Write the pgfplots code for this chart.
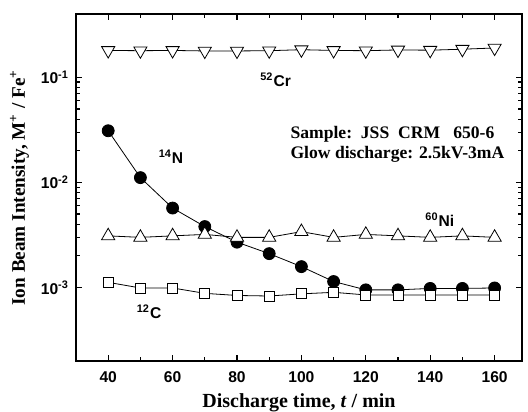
\documentclass[border=0pt]{standalone}
\usepackage{pgfplots}
\pgfplotsset{compat=1.18}
\usepackage{fontspec}
\setmainfont{Liberation Serif}
\newfontfamily\arial{Liberation Sans}
\begin{document}
\begin{tikzpicture}
\begin{axis}[
  scale only axis,
  width=223pt, height=173.5pt,
  ymode=log,
  xmin=30, xmax=168.5,
  ymin=2e-4, ymax=0.4,
  xtick={40,60,...,160},
  minor xtick={50,70,...,150},
  ytick={1e-3,1e-2,1e-1},
  yticklabels={10\textsuperscript{-3},10\textsuperscript{-2},10\textsuperscript{-1}},
  tick align=inside,
  tick pos=both,
  major tick length=3pt, minor tick length=2pt,
  axis line style={line width=1pt},
  every tick/.style={black, line width=0.6pt},
  ticklabel style={font=\arial\bfseries\fontsize{7.8}{9}\selectfont},
  xticklabel style={yshift=-2pt},
  /pgf/number format/assume math mode=true,
  xlabel={\bfseries Discharge time, \textit{t} / min},
  ylabel={\bfseries Ion Beam Intensity, M\textsuperscript{+} / Fe\textsuperscript{+}},
  xlabel style={font=\fontsize{10}{12}\selectfont, yshift=1.5pt},
  ylabel style={font=\fontsize{9.6}{11}\selectfont, yshift=-1pt},
  clip=false,
]
% 52Cr
\addplot[black, line width=0.4pt, mark=triangle*, mark options={fill=white, rotate=180, scale=1.9, line width=0.4pt}] coordinates {
(40,0.180) (50,0.179) (60,0.180) (70,0.178) (80,0.178) (90,0.179) (100,0.183)
(110,0.180) (120,0.179) (130,0.182) (140,0.181) (150,0.185) (160,0.190)};
% 14N
\addplot[black, line width=0.4pt, mark=*, mark options={fill=black, scale=1.5}] coordinates {
(40,0.031) (50,0.0111) (60,0.0057) (70,0.0038) (80,0.0027) (90,0.0021) (100,0.00158)
(110,0.00114) (120,0.00095) (130,0.00095) (140,0.00098) (150,0.00098) (160,0.00099)};
% 60Ni
\addplot[black, line width=0.4pt, mark=triangle*, mark options={fill=white, scale=1.9, line width=0.4pt}] coordinates {
(40,0.0031) (50,0.0030) (60,0.0031) (70,0.0032) (80,0.0030) (90,0.0030) (100,0.0034)
(110,0.0030) (120,0.0032) (130,0.0031) (140,0.0030) (150,0.0031) (160,0.0030)};
% 12C
\addplot[black, line width=0.4pt, mark=square*, mark options={fill=white, scale=1.25, line width=0.4pt}] coordinates {
(40,0.00112) (50,0.00099) (60,0.00099) (70,0.00088) (80,0.00084) (90,0.00083) (100,0.00087)
(110,0.00090) (120,0.00085) (130,0.00085) (140,0.00085) (150,0.00085) (160,0.00085)};
\node[font=\arial\bfseries\fontsize{7.8}{9}\selectfont] at (axis cs:92,0.095) {\textsuperscript{52}Cr};
\node[font=\arial\bfseries\fontsize{7.8}{9}\selectfont] at (axis cs:59.5,0.0176) {\textsuperscript{14}N};
\node[font=\arial\bfseries\fontsize{7.8}{9}\selectfont] at (axis cs:143,0.0044) {\textsuperscript{60}Ni};
\node[font=\arial\bfseries\fontsize{7.8}{9}\selectfont] at (axis cs:52.7,0.00059) {\textsuperscript{12}C};
\node[anchor=west, inner sep=0pt, font=\bfseries\fontsize{8.8}{10}\selectfont] at (axis cs:96.5,0.0285) {Sample:\ \ JSS\ \ CRM\ \ \ 650-6};
\node[anchor=west, inner sep=0pt, font=\bfseries\fontsize{8.8}{10}\selectfont] at (axis cs:96.5,0.0186) {Glow discharge: 2.5kV-3mA};
\coordinate (bl) at (axis description cs:-0.1704,-0.147);
\coordinate (tr) at (axis description cs:1.0135,1.0403);
\end{axis}
\pgfresetboundingbox
\path (bl) rectangle (tr);
\end{tikzpicture}
\end{document}
